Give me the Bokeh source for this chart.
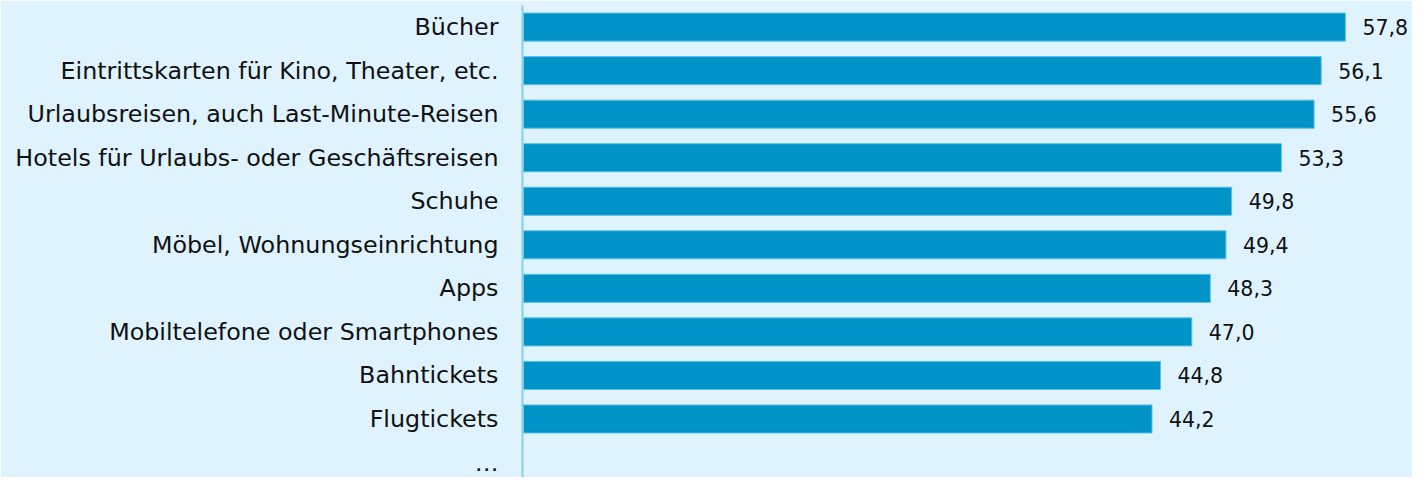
from bokeh.plotting import figure
from bokeh.models import Range1d, FixedTicker, ColumnDataSource, LabelSet
from bokeh.core.properties import value
from bokeh.embed import file_html
from bokeh.resources import INLINE

categories = [
    "Bücher",
    "Eintrittskarten für Kino, Theater, etc.",
    "Urlaubsreisen, auch Last-Minute-Reisen",
    "Hotels für Urlaubs- oder Geschäftsreisen",
    "Schuhe",
    "Möbel, Wohnungseinrichtung",
    "Apps",
    "Mobiltelefone oder Smartphones",
    "Bahntickets",
    "Flugtickets",
    "…",
]
values = [57.8, 56.1, 55.6, 53.3, 49.8, 49.4, 48.3, 47.0, 44.8, 44.2]

BG = "#dff3fe"
BAR = "#0093c8"

pos = list(range(len(categories)))
bar_pos = pos[: len(values)]
src = ColumnDataSource(dict(
    y=bar_pos,
    v=values,
    lab=[f"{v:.1f}".replace(".", ",") for v in values],
))

p = figure(
    width=1412, height=477,
    output_backend="svg", toolbar_location=None,
    x_axis_location=None,
    x_range=Range1d(-0.07, 62.52),
    y_range=Range1d(10.344, -0.496),
    min_border_left=522, min_border_right=0,
    min_border_top=5, min_border_bottom=0,
)
p.background_fill_color = BG
p.border_fill_color = BG
p.outline_line_color = None
p.grid.visible = False

p.hbar(y="y", right="v", left=0, height=0.645, source=src,
       fill_color=BAR, line_color="#5ec1e6", line_width=1)

labels = LabelSet(x="v", y="y", text="lab", source=src,
                  x_offset=17, text_baseline="middle", text_align="left",
                  text_font=value("DejaVu Sans"), text_font_size="20.5px",
                  text_color="#111111")
p.add_layout(labels)

ax = p.yaxis[0]
ax.ticker = FixedTicker(ticks=pos)
ax.major_label_overrides = {i: c for i, c in zip(pos, categories)}
ax.major_tick_line_color = None
ax.minor_tick_line_color = None
ax.axis_line_color = "#86cfee"
ax.axis_line_width = 2
ax.major_label_standoff = 18
ax.major_label_text_font = "DejaVu Sans"
ax.major_label_text_font_size = "23.8px"
ax.major_label_text_color = "#111111"

open("out.html", "w").write(file_html(p, INLINE))
